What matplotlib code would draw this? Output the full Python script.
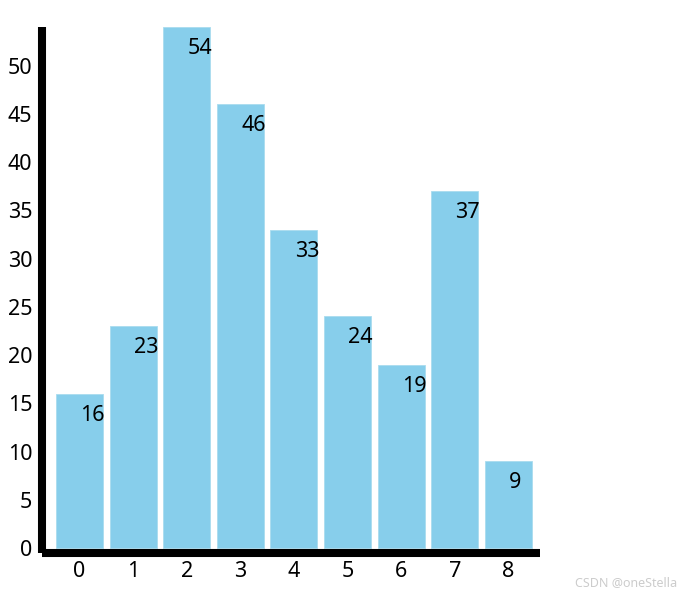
import matplotlib.pyplot as plt

# bar data
categories = ['0', '1', '2', '3', '4', '5', '6', '7', '8']
values = [16, 23, 54, 46, 33, 24, 19, 37, 9]
yticks = [0, 5, 10, 15, 20, 25, 30, 35, 40, 45, 50]

plt.rcParams['font.family'] = ['Noto Sans', 'DejaVu Sans']

W, H = 686, 597
fig = plt.figure(figsize=(W / 100, H / 100), dpi=100)
# axes placed in pixel terms: left spine at x=42, bottom spine at y=553, top at y=27
ax = fig.add_axes([42 / W, (H - 553) / H, (540 - 42) / W, (553 - 27) / H])

xs = range(len(categories))
ax.bar(xs, values, width=0.877, color='#87CEEB', edgecolor='#a9dcef', linewidth=0.6)

for x, v in zip(xs, values):
    ax.annotate(str(v), (x, v), xytext=(0.5, -15.5), textcoords='offset points',
                ha='left', va='center', fontsize=15.5, color='black')

ax.set_xlim(-0.70, 8.59)
ax.set_ylim(-5 / 9.65, 54)
ax.set_xticks(list(xs))
ax.set_xticklabels(categories)
ax.set_yticks(yticks)
ax.tick_params(axis='both', length=0, labelsize=15.5, colors='black')
ax.tick_params(axis='y', pad=7)
ax.tick_params(axis='x', pad=6)

for side in ['top', 'right']:
    ax.spines[side].set_visible(False)
ax.spines['left'].set_linewidth(5.8)
ax.spines['bottom'].set_linewidth(5.8)
ax.spines['left'].set_capstyle('butt')
ax.spines['bottom'].set_capstyle('butt')

fig.text(677 / W, (H - 583) / H, 'CSDN @oneStella', ha='right', va='center',
         fontsize=9, color='#cccccc')

fig.savefig('out.png', dpi=100)
